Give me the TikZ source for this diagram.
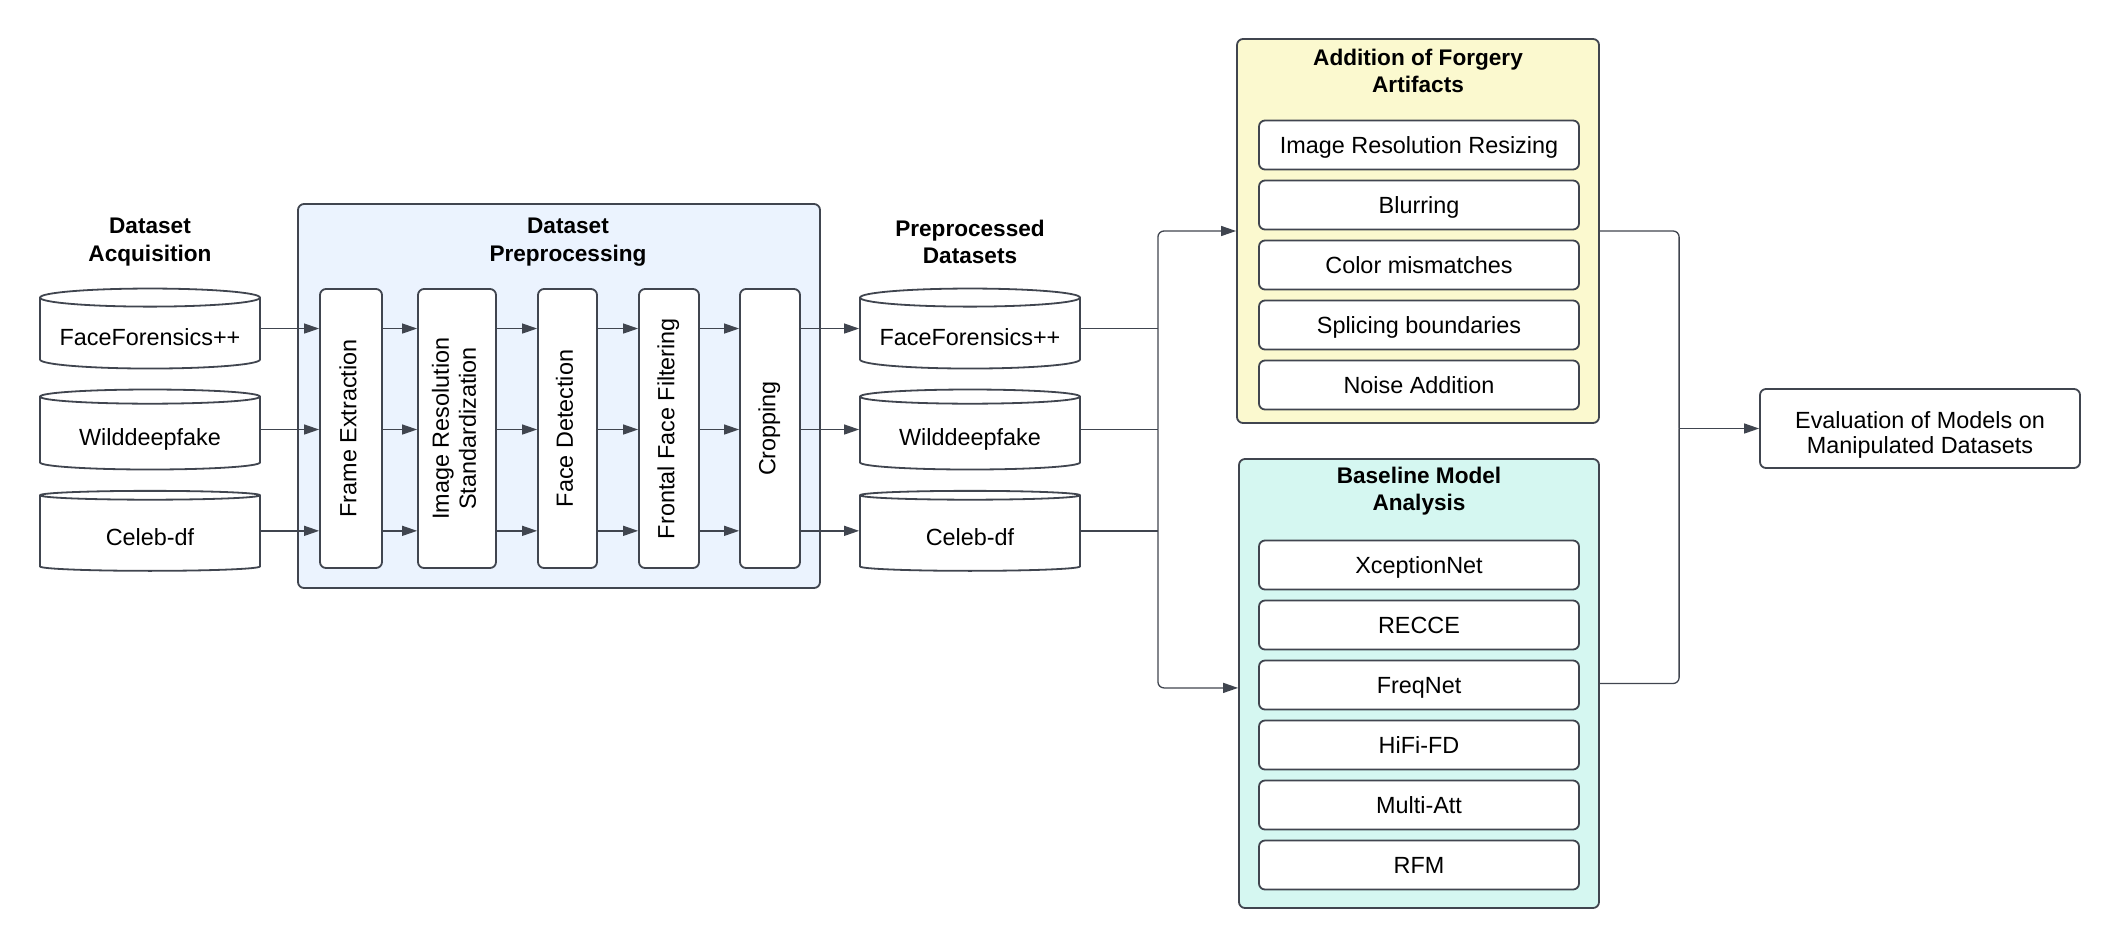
\documentclass[tikz,border=0pt]{standalone}
\usepackage{fontspec}
\setmainfont{Liberation Sans}
\usetikzlibrary{arrows.meta,positioning,shapes.geometric}

\definecolor{edge}{HTML}{40454F}
\definecolor{prepfill}{HTML}{EBF3FE}
\definecolor{artfill}{HTML}{FBF9CF}
\definecolor{modelfill}{HTML}{D5F7F1}

\newcommand{\vlabel}[1]{\rotatebox{90}{\begin{tabular}{@{}c@{}}#1\end{tabular}}}

\begin{document}
\begin{tikzpicture}[
    x=0.5pt, y=-0.5pt,
    font=\fontsize{11.7}{13.5}\selectfont,
    db/.style={cylinder, shape border rotate=90, aspect=0.1, draw=edge, line width=0.9pt, fill=white, minimum width=110pt, minimum height=40pt, inner sep=0pt, text height=13pt, text depth=0.6pt},
    group/.style={draw=edge, line width=0.9pt, rounded corners=3pt, fill=#1, inner sep=0pt},
    stage/.style={draw=edge, line width=0.9pt, rounded corners=3pt, fill=white, minimum height=139.5pt, inner sep=0pt},
    item/.style={draw=edge, line width=0.9pt, rounded corners=3pt, fill=white, minimum width=160pt, minimum height=24.5pt, inner sep=0pt, text height=10pt, text depth=1.6pt},
    head/.style={font=\fontsize{11.3}{13.8}\selectfont\bfseries, align=center},
    link/.style={draw=edge, line width=0.65pt},
    arrow/.style={link, -{Triangle[length=7.5pt, width=5pt]}},
]
\useasboundingbox (0,0) rectangle (2120,949);

% -- Dataset acquisition --
\node[head] (acqtitle) at (150,242) {Dataset\\Acquisition};
\node[db] (ff) at (150,333.5) {FaceForensics++};
\node[db] (wd) at (150,433.5) {Wilddeepfake};
\node[db] (cd) at (150,533.5) {Celeb-df};

% -- Preprocessing --
\node[group=prepfill, minimum width=261pt, minimum height=192pt] (prepbox) at (559,396) {};
\node[head] (preptitle) at (568,242) {Dataset\\Preprocessing};
\node[stage, minimum width=31pt] (frame) at (351,428.5) {\vlabel{Frame Extraction}};
\node[stage, minimum width=39pt, right=17.1pt of frame] (imgres) {\vlabel{Image Resolution\\Standardization}};
\node[stage, minimum width=29.5pt, right=20.1pt of imgres] (facedet) {\vlabel{Face Detection}};
\node[stage, minimum width=30pt, right=20.1pt of facedet] (frontal) {\vlabel{Frontal Face Filtering}};
\node[stage, minimum width=30pt, right=19.6pt of frontal] (crop) {\vlabel{Cropping}};

% -- Preprocessed datasets --
\node[head] (pptitle) at (970,242) {Preprocessed\\Datasets};
\node[db] (pff) at (970,333.5) {FaceForensics++};
\node[db] (pwd) at (970,433.5) {Wilddeepfake};
\node[db] (pcd) at (970,533.5) {Celeb-df};

% -- Forgery artifacts --
\node[group=artfill, minimum width=181pt, minimum height=192pt] (artbox) at (1418,231) {};
\node[head] (arttitle) at (1418,71) {Addition of Forgery\\Artifacts};
\node[item] (resize) at (1419,145) {Image Resolution Resizing};
\node[item, below=4.6pt of resize] (blur) {Blurring};
\node[item, below=4.6pt of blur] (color) {Color mismatches};
\node[item, below=4.6pt of color] (splice) {Splicing boundaries};
\node[item, below=4.6pt of splice] (noise) {Noise Addition};

% -- Baseline models --
\node[group=modelfill, minimum width=180pt, minimum height=224.5pt] (modelbox) at (1419,683.5) {};
\node[head] (modeltitle) at (1419,491) {Baseline Model\\Analysis};
\node[item] (xception) at (1419,565) {XceptionNet};
\node[item, below=4.6pt of xception] (recce) {RECCE};
\node[item, below=4.6pt of recce] (freqnet) {FreqNet};
\node[item, below=4.6pt of freqnet] (hifi) {HiFi-FD};
\node[item, below=4.6pt of hifi] (multiatt) {Multi-Att};
\node[item, below=4.6pt of multiatt] (rfm) {RFM};

% -- Evaluation --
\node[item, minimum height=39.5pt, align=center, font=\fontsize{11.7}{12.5}\selectfont, text height=24.5pt, text depth=0pt] (eval) at (1920,428.5) {Evaluation of Models on\\Manipulated Datasets};

% -- Arrows --
\foreach \r in {ff, wd, cd}
    \draw[arrow] (\r.east |- \r.shape center) -- (frame.west |- \r.shape center);
\foreach \a/\b in {frame/imgres, imgres/facedet, facedet/frontal, frontal/crop}
    \foreach \r in {ff, wd, cd}
        \draw[arrow] (\a.east |- \r.shape center) -- (\b.west |- \r.shape center);
\foreach \r/\p in {ff/pff, wd/pwd, cd/pcd}
    \draw[arrow] (crop.east |- \r.shape center) -- (\p.west |- \p.shape center);

\coordinate[right=38.5pt of pwd.east |- pwd.shape center] (busL);
\draw[link] (pff.east |- pff.shape center) -- (busL |- pff.shape center);
\draw[link] (pwd.east |- pwd.shape center) -- (busL);
\draw[link] (pcd.east |- pcd.shape center) -- (busL |- pcd.shape center);
\draw[arrow, rounded corners=3pt] (busL) |- (artbox.west);
\draw[arrow, rounded corners=3pt] (busL) |- ([yshift=-2.2pt]modelbox.west);

\coordinate[left=40pt of eval.west] (busR);
\draw[link, rounded corners=3pt] (artbox.east) -| (busR);
\draw[link, rounded corners=3pt] (modelbox.east) -| (busR);
\draw[arrow] (busR) -- (eval.west);

\end{tikzpicture}
\end{document}
